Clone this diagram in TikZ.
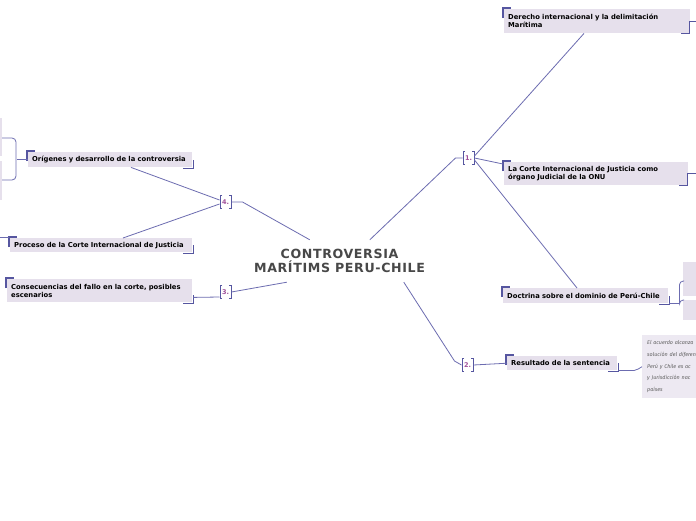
\documentclass[tikz,border=0pt]{standalone}
\usepackage{fontspec}
\setmainfont{Fira Sans}
\newfontfamily\nodefont{DejaVu Sans}
\newfontfamily\ifont{Fira Sans}
\newfontfamily\cfont{DejaVu Sans}[LetterSpace=5]
\usetikzlibrary{calc,backgrounds}
\definecolor{boxc}{HTML}{E6E0EC}
\definecolor{centc}{HTML}{E5DFEC}
\definecolor{conc}{HTML}{6C6CB0}
\definecolor{brc}{HTML}{5656A0}
\definecolor{numc}{HTML}{A0509A}
\definecolor{ctext}{HTML}{484848}
\definecolor{itext}{HTML}{606060}
\tikzset{
  box/.style={fill=boxc, anchor=north west, inner xsep=4pt, inner ysep=1.5pt, align=left,
    font=\nodefont\bfseries\fontsize{6.8}{8}\selectfont, text=black},
  ibox/.style={fill=boxc!70!white, anchor=north west, inner xsep=5pt, inner ysep=4pt, align=left,
    font=\ifont\itshape\fontsize{5.4}{11.7}\selectfont, text=itext},
  con/.style={draw=conc, line width=0.8pt},
  brk/.style={draw=brc, line width=1.4pt},
  nbr/.style={draw=brc, line width=0.9pt},
  numn/.style={font=\nodefont\bfseries\fontsize{6.5}{6.5}\selectfont, text=numc, inner sep=0pt},
}
\begin{document}
\begin{tikzpicture}[x=1pt,y=-1pt]
\useasboundingbox (0,0) rectangle (696,520);
\fill[white] (0,0) rectangle (696,520);

% central node
\node[inner sep=0pt, minimum width=195pt, minimum height=42pt, align=center,
  font=\cfont\bfseries\fontsize{12.6}{14}\selectfont, text=ctext] (c) at (339.5,261)
  {CONTROVERSIA\\MARÍTIMS PERU-CHILE};
\begin{scope}[on background layer]
\fill[centc] (c.north west) -- (c.north east) -- ($(c.east)+(18,0)$) -- (c.south east) -- (c.south west) -- cycle;
\end{scope}

% right nodes
\node[box, text width=178pt, minimum height=24pt] (d1) at (504,9)
  {Derecho internacional y la delimitación\\Marítima};
\node[box, text width=176pt, minimum height=23pt] (d2) at (504,162)
  {La Corte Internacional de Justicia como\\órgano Judicial de la ONU};
\node[box, text width=157pt, minimum height=15pt] (d3) at (503,288)
  {\mbox{Doctrina sobre el dominio de Perú-Chile}};
\node[box, text width=102pt, minimum height=14pt] (d4) at (507,356)
  {Resultado de la sentencia};
\node[ibox, text width=80pt, minimum height=63pt] (d5) at (642,335)
  {El acuerdo alcanza\\solución del diferen\\Perú y Chile es ac\\y Jurisdicción nac\\países};
\fill[boxc] (683,262) rectangle (700,296);
\fill[boxc] (683,300) rectangle (700,320);

% left nodes
\node[box, text width=156pt, minimum height=15pt] (l1) at (28,152)
  {Orígenes y desarrollo de la controversia};
\node[box, text width=174pt, minimum height=14pt] (l2) at (10,238)
  {Proceso de la Corte Internacional de Justicia};
\node[box, text width=177pt, minimum height=23pt] (l3) at (7,279)
  {Consecuencias del fallo en la corte, posibles\\escenarios};
\fill[boxc] (-6,118) rectangle (2,156);
\fill[boxc] (-6,161) rectangle (2,200);

% corner brackets
\foreach \n in {d1,d2,d3,d4,l1,l2,l3}{
  \draw[brk] ($(\n.north west)+(-1,9)$) -- ($(\n.north west)+(-1,-1)$) -- ($(\n.north west)+(7,-1)$);
}
\foreach \n in {d3,d4,l1,l2,l3}{
  \draw[brk] ($(\n.south east)+(-9,1)$) -- ($(\n.south east)+(1,1)$) -- ($(\n.south east)+(1,-7)$);
}
\foreach \n in {d1,d2}{
  \draw[brk] ($(\n.south east)+(-9,0)$) -- ($(\n.south east)+(-1,0)$) -- ($(\n.south east)+(-1,-12)$) -- ($(\n.south east)+(12,-12)$);
}

% number labels
\node[numn] (n1) at (468.5,158) {1.};
\node[numn] (n2) at (467.5,365) {2.};
\node[numn] (n3) at (225.5,292) {3.};
\node[numn] (n4) at (225.5,202) {4.};
\foreach \n in {n1,n2,n3,n4}{
  \draw[nbr] ($(\n)+(-3.5,-6.5)$) -- ++(-2,0) -- ++(0,13) -- ++(2,0);
  \draw[nbr] ($(\n)+(3.5,-6.5)$) -- ++(2,0) -- ++(0,13) -- ++(-2,0);
}

% connectors from center
\draw[con] ($(c.north west)+(128,0)$) -- ($(n1)+(-13,0)$) -- ($(n1)+(-6,0)$);
\draw[con] ($(c.south west)+(162,0)$) -- ($(n2)+(-13,-4)$) -- ($(n2)+(-6,0)$);
\draw[con] ($(c.north west)+(68,0)$) -- ($(n4)+(17,0)$) -- ($(n4)+(6,0)$);
\draw[con] ($(c.south west)+(45,0)$) -- ($(n3)+(6,0)$);

% connectors from numbers
\draw[con] ($(n1)+(6,-2)$) -- ($(d1.south west)+(80,0)$);
\draw[con] ($(n1)+(6,0)$) -- ($(d2.north west)+(-1,2)$);
\draw[con] ($(n1)+(6,2)$) -- ($(d3.north west)+(74,0)$);
\draw[con] ($(n2)+(6,0)$) -- (d4.west);
\draw[con] ($(n4)+(-6,-2)$) -- ($(l1.south west)+(103,0)$);
\draw[con] ($(n4)+(-6,2)$) -- ($(l2.north west)+(113,0)$);
\draw[con] ($(n3)+(-6,5)$) -- ($(l3.south east)+(1,-5)$);

% further connectors
\coordinate (k1) at (684,281);
\coordinate (k2) at (684,300);
\draw[con] ($(d3.south east)+(1,0)$) -- ($(d3.south east)+(11,0)$);
\draw[con, rounded corners=4pt] (k1) -| ($(d3.south east)+(11,0)$) |- (k2);
\draw[con] ($(d4.south east)+(1,0)$) -- ++(16,0) to[out=0,in=200] (d5.west);
\coordinate (k3) at (2,138);
\coordinate (k4) at (16,180);
\coordinate (k5) at (2,180);
\draw[con] (l1.west) -- ++(-11,0);
\draw[con, rounded corners=4pt] (k3) -| (k4) -- (k5);
\draw[con] (0,237) -- ($(l2.north west)+(-1,-1)$);
\end{tikzpicture}
\end{document}
